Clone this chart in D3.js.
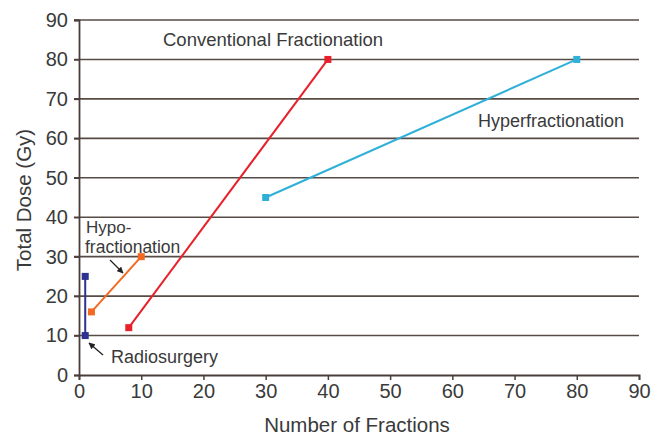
<!DOCTYPE html>
<html><head><meta charset="utf-8">
<script src="https://cdn.jsdelivr.net/npm/d3@7"></script>
<style>body{margin:0;background:#fff}svg{display:block}text{font-family:"Liberation Sans",Arial,sans-serif;fill:#3a3a3a}</style>
</head><body>
<svg id="c" width="652" height="436"></svg>
<script>
const xTicks = [0,10,20,30,40,50,60,70,80,90];
const yTicks = [0,10,20,30,40,50,60,70,80,90];
const radiosurgery = [[1,10],[1,25]];
const hypofractionation = [[2,16],[10,30]];
const conventional = [[8,12],[40,80]];
const hyperfractionation = [[30,45],[80,80]];
const seriesNames = ["Radiosurgery","Hypofractionation","Conventional Fractionation","Hyperfractionation"];
const seriesColors = ["#2e3190","#f26a22","#e8202a","#2eb0d8"];
const seriesData = [radiosurgery, hypofractionation, conventional, hyperfractionation];

const svg = d3.select("#c");
const x = d3.scaleLinear().domain([0,90]).range([79,639]);
const y = d3.scaleLinear().domain([0,90]).range([375,20]);

// gridlines
svg.append("g").selectAll("line").data(yTicks.filter(d=>d>0)).join("line")
  .attr("x1",74).attr("x2",639).attr("y1",d=>y(d)).attr("y2",d=>y(d))
  .attr("stroke","#574b46").attr("stroke-width",1.6);

// x axis
const xa = svg.append("g").attr("transform",`translate(0,${y(0)})`)
  .call(d3.axisBottom(x).tickValues(xTicks).tickSize(5).tickPadding(4));
xa.select(".domain").attr("stroke","#4a3e3a").attr("stroke-width",1.8);
xa.selectAll(".tick line").attr("stroke","#4a3e3a").attr("stroke-width",1.5);
xa.selectAll("text").attr("font-size",20).attr("fill","#3a3a3a").attr("font-family","Liberation Sans, Arial, sans-serif");

// y axis
const ya = svg.append("g").attr("transform",`translate(${x(0)},0)`)
  .call(d3.axisLeft(y).tickValues(yTicks).tickSize(5).tickPadding(6));
ya.select(".domain").attr("stroke","#4a3e3a").attr("stroke-width",1.8);
ya.selectAll(".tick line").attr("stroke","#4a3e3a").attr("stroke-width",1.5);
ya.selectAll("text").attr("font-size",20).attr("fill","#3a3a3a").attr("font-family","Liberation Sans, Arial, sans-serif");

// axis titles
svg.append("text").attr("x",357).attr("y",432).attr("text-anchor","middle").attr("font-size",20.5).text("Number of Fractions");
svg.append("text").attr("transform","translate(31,200) rotate(-90)").attr("text-anchor","middle").attr("font-size",20.5).text("Total Dose (Gy)");

// series
const line = d3.line().x(d=>x(d[0])).y(d=>y(d[1]));
seriesData.forEach((s,i)=>{
  const g = svg.append("g");
  g.append("path").attr("d",line(s)).attr("fill","none").attr("stroke",seriesColors[i]).attr("stroke-width",2);
  g.selectAll("rect").data(s).join("rect")
    .attr("x",d=>x(d[0])-3.5).attr("y",d=>y(d[1])-3.5).attr("width",7).attr("height",7)
    .attr("fill",seriesColors[i]);
});

// annotations
const fs = 18;
svg.append("text").attr("x",163).attr("y",46).attr("font-size",fs+0.5).text("Conventional Fractionation");
svg.append("text").attr("x",478).attr("y",127).attr("font-size",fs).text("Hyperfractionation");
svg.append("text").attr("x",86).attr("y",233).attr("font-size",17).text("Hypo-");
svg.append("text").attr("x",85).attr("y",253).attr("font-size",17.5).text("fractionation");
svg.append("text").attr("x",111).attr("y",363).attr("font-size",fs).text("Radiosurgery");

const defs = svg.append("defs");
defs.append("marker").attr("id","ah").attr("viewBox","0 0 10 10").attr("refX",9).attr("refY",5)
  .attr("markerWidth",5).attr("markerHeight",5).attr("orient","auto")
  .append("path").attr("d","M0,0 L10,5 L0,10 z").attr("fill","#222");
svg.append("line").attr("x1",110).attr("y1",260).attr("x2",123).attr("y2",273)
  .attr("stroke","#222").attr("stroke-width",1.3).attr("marker-end","url(#ah)");
svg.append("line").attr("x1",103).attr("y1",355).attr("x2",89).attr("y2",343)
  .attr("stroke","#222").attr("stroke-width",1.3).attr("marker-end","url(#ah)");
</script>
</body></html>
